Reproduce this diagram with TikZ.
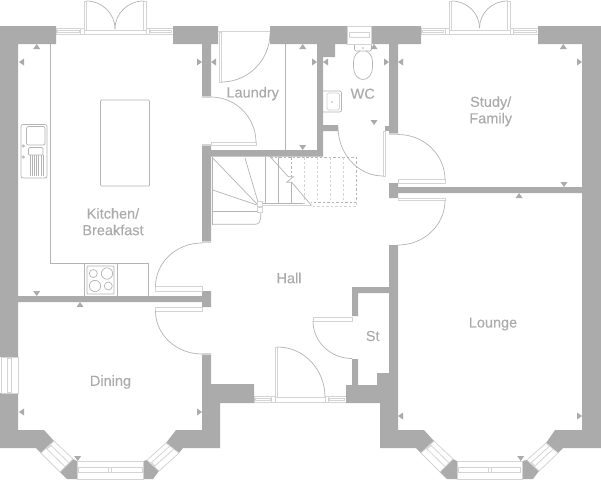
\documentclass[tikz,border=0pt]{standalone}
\usepackage{fontspec}
\setmainfont{Liberation Sans}
\newfontface\lblfont[FakeBold=0.12]{Liberation Sans}
\usetikzlibrary{calc}
\definecolor{wallc}{HTML}{ABABAB}
\definecolor{linec}{HTML}{B4B4B4}
\definecolor{lightc}{HTML}{D4D4D4}
\tikzset{
  wall/.style={fill=wallc,draw=none},
  thin line/.style={draw=linec,line width=0.7pt},
  light line/.style={draw=lightc,line width=0.8pt},
  capbar/.style={fill=white,draw=lightc,line width=0.8pt},
  dark dash/.style={draw=linec,line width=0.7pt,dash pattern=on 2.5pt off 2pt},
  pale dash/.style={draw=lightc,line width=0.7pt,dash pattern=on 2.5pt off 2pt},
  label/.style={text=wallc,font=\lblfont\fontsize{14.5}{16.5}\selectfont,align=center,inner sep=0pt}
}
\newcommand\qh[4]{\draw[thin line] (#1,#2) .. controls ({#1+.5523*(#3-(#1))},#2) and (#3,{#4-.5523*(#4-(#2))}) .. (#3,#4);}
\newcommand\qv[4]{\draw[thin line] (#1,#2) .. controls (#1,{#2+.5523*(#4-(#2))}) and ({#3-.5523*(#3-(#1))},#4) .. (#3,#4);}
\newcommand\mkU[2]{\fill[wallc] ({#1-3.5},{#2+5})--(#1,#2)--({#1+3.5},{#2+5})--cycle;}
\newcommand\mkD[2]{\fill[wallc] ({#1-3.5},{#2-5})--(#1,#2)--({#1+3.5},{#2-5})--cycle;}
\newcommand\mkL[2]{\fill[wallc] ({#1+5},{#2-3.5})--(#1,#2)--({#1+5},{#2+3.5})--cycle;}
\newcommand\mkR[2]{\fill[wallc] ({#1-5},{#2-3.5})--(#1,#2)--({#1-5},{#2+3.5})--cycle;}
% flat window: x1 x2 y1 y2
\newcommand\winh[4]{\draw[capbar] (#1,#3) rectangle (#2,#4);
  \draw[light line] ({#1+1.5},{#3+1.7}) rectangle ({#2-1.5},{#4-1.7});}
% bay window from four corners
\newcommand\bay[8]{\draw[capbar] (#1,#2)--(#3,#4)--(#5,#6)--(#7,#8)--cycle;
  \draw[light line] ($(#1,#2)!.3!(#7,#8)$)--($(#3,#4)!.3!(#5,#6)$);
  \draw[light line] ($(#1,#2)!.6!(#7,#8)$)--($(#3,#4)!.6!(#5,#6)$);
  \draw[light line] ($(#1,#2)!.08!(#3,#4)!.3!(#7,#8)$)--($(#1,#2)!.08!(#3,#4)!.6!(#7,#8)$);}
\begin{document}
\begin{tikzpicture}[x=1pt,y=-1pt]
\useasboundingbox (0,0) rectangle (601,480);
\fill[white] (0,0) rectangle (601,480);
% --- kitchen fittings
\draw[thin line] (50.5,44)--(50.5,263)--(148,263)--(148,296);
\draw[thin line] (84.5,263)--(84.5,296) (117.5,263)--(117.5,296);
\draw[thin line,rounded corners=1pt] (87,266) rectangle (114,294);
\draw[thin line] (93.3,273.5) circle (4) (107,273.5) circle (5.7) (95,286) circle (5.7) (108.3,286) circle (4);
\draw[thin line,rounded corners=1pt] (100.5,100) rectangle (149.5,186);
\draw[thin line,rounded corners=2pt] (21,124.5) rectangle (47,178);
\draw[thin line,rounded corners=2pt] (26.5,126.5) rectangle (45,145);
\draw[thin line,rounded corners=1pt] (28.5,147.5) rectangle (43,155);
\foreach \xx in {30,32.2,34.4,36.6,38.8,41,43}{\draw[thin line] (\xx,155)--(\xx,176);}
\draw[thin line] (23.3,146) circle (1.2) (23.3,157) circle (1.2);
% --- laundry and WC fittings
\draw[thin line] (285.5,44)--(285.5,150);
\draw[thin line,rounded corners=1.5pt] (354.5,44)--(354.5,51)--(371.5,51)--(371.5,44);
\draw[thin line] (360,51) .. controls (353,55) and (353.5,60) .. (353.5,66) .. controls (353.5,75) and (358,79.5) .. (363,79.5) .. controls (368,79.5) and (372.5,75) .. (372.5,66) .. controls (372.5,60) and (373,55) .. (366,51);
\fill[linec] (363,48) circle (0.9);
\draw[thin line,rounded corners=2pt] (323,91) -- (341.5,91) -- (341.5,112) -- (323,112);
\draw[light line,rounded corners=1.5pt] (327,93) rectangle (339.5,110);
\fill[linec] (332,102) circle (0.9);
% --- stairs
\draw[thin line] (212.7,157)--(212.7,225);
\draw[thin line] (212.7,158)--(257.3,204.3);
\draw[thin line] (245,158)--(258,202);
\draw[thin line] (212.7,190)--(257,205);
\draw[thin line] (212.7,211)--(257,211);
\draw[thin line] (212.7,224.3)--(255,224.3) .. controls (259,224.3) and (260.7,221) .. (260.7,218)--(260.7,212);
\draw[thin line] (265.3,157)--(265.3,203);
\draw[thin line] (278.3,157)--(278.3,203);
\draw[thin line] (291.7,182)--(291.7,203);
\draw[thin line] (269.3,155.7)--(288.3,176.7)--(293.3,176.7)--(286.7,182.3)--(291.7,182.3)--(311.7,205.7);
\draw[light line] (262.3,203.3)--(305,203.3) (262.3,205.8)--(311.7,205.8);
\draw[thin line] (262.3,203.3)--(303,203.3);
\draw[capbar] (257.3,201.7) rectangle (262.3,206.7);
\draw[capbar] (257.3,207) rectangle (262.3,212);
\draw[dark dash] (270,157)--(356,157)--(356,202.3)--(311,202.3);
\draw[dark dash] (291.7,157)--(291.7,177);
\draw[pale dash] (304.3,157)--(304.3,202);
\draw[pale dash] (317.3,157)--(317.3,202);
\draw[pale dash] (330.7,157)--(330.7,202);
\draw[pale dash] (343.7,157)--(343.7,202);
\draw[pale dash] (356,202)--(356,206)--(311,206);
% --- windows
\winh{56}{81}{28.3}{34}
\winh{149}{173}{28.3}{34}
\winh{421}{445}{28.3}{34}
\winh{512}{538}{28.3}{34}
\draw[capbar] (80,28.3) rectangle (84,34);
\draw[capbar] (146,28.3) rectangle (149.5,34);
\draw[capbar] (445,28.3) rectangle (449,34);
\draw[capbar] (510,28.3) rectangle (513,34);
\winh{254}{272}{396.5}{402.5}
\winh{328}{346}{396.5}{402.5}
\draw[capbar] (271,396.5) rectangle (275,402.5);
\draw[capbar] (325,396.5) rectangle (328,402.5);
% --- external doors
\draw[capbar] (84,1) rectangle (86.5,30);
\draw[capbar] (143.5,1) rectangle (146,30);
\draw[capbar] (84,30) rectangle (146,34);
\qh{86.5}{1}{115}{29}
\qh{143.5}{1}{115}{29}
\draw[capbar] (449,1) rectangle (451.5,30);
\draw[capbar] (507.5,1) rectangle (510,30);
\draw[capbar] (449,30) rectangle (510,34);
\qh{451.5}{1}{479.5}{28}
\qh{507.5}{1}{479.5}{28}
\draw[capbar] (275,347) rectangle (277.5,397);
\draw[capbar] (275,397) rectangle (325,402.5);
\qh{277.5}{347}{325}{397}
% --- walls
\fill[wall] (0,26)--(56,26)--(56,44)--(18,44)--(18,357)--(0,357)--cycle;
\fill[wall] (173,26)--(218,26)--(218,44)--(211,44)--(211,97)--(202,97)--(202,44)--(173,44)--cycle;
\fill[wall] (270,26)--(347,26)--(347,44)--(335,44)--(335,57)--(323,57)--(323,125)--(338,125)--(338,131)--(323,131)--(323,156.5)--(211,156.5)--(211,242)--(202,242)--(202,145)--(211,145)--(211,150)--(317,150)--(317,44)--(270,44)--cycle;
\fill[wall] (371,26)--(421,26)--(421,44)--(398,44)--(398,134)--(389,134)--(389,44)--(371,44)--cycle;
\fill[wall] (538,26)--(601,26)--(601,448)--(563,448)--(558,453)--(546,443)--(555,430)--(582,430)--(582,44)--(538,44)--cycle;
% kitchen/dining wall
\fill[wall] (18,296)--(202,296)--(202,291)--(211,291)--(211,307)--(202,307)--(202,302)--(18,302)--cycle;
% dining lower left
\fill[wall] (0,393)--(18,393)--(18,430)--(44,430)--(54,441)--(41,453)--(36,448)--(0,448)--cycle;
\fill[wall] (73,459)--(77,461)--(77,479)--(67,479)--(60,472)--cycle;
\fill[wall] (147,460)--(143,461)--(143,479)--(153,479)--(159,471)--cycle;
\fill[wall] (166,443)--(176,430)--(202,430)--(202,354)--(211,354)--(211,384)--(254,384)--(254,403)--(220,403)--(220,448)--(183,448)--(179,453)--cycle;
% hall right, St
\fill[wall] (389,183)--(398,183)--(398,187)--(582,187)--(582,193)--(398,193)--(398,198)--(389,198)--cycle;
\fill[wall] (389,245)--(398,245)--(398,430)--(424,430)--(434,441)--(421,453)--(416,448)--(380,448)--(380,403)--(346,403)--(346,385)--(352,385)--(352,359)--(358,359)--(358,385)--(377,385)--(377,373)--(389,373)--(389,293)--(358,293)--(358,316)--(352,316)--(352,287)--(389,287)--cycle;
\fill[wall] (453,459)--(457,461)--(457,479)--(447,479)--(440,472)--cycle;
\fill[wall] (527,460)--(522,461)--(522,479)--(533,479)--(539,471)--cycle;
\fill[wall] (385,126)--(389,126)--(389,131)--(385,131)--cycle;
% wall-end caps
\fill[lightc] (202,96)--(211,96)--(211,98)--(202,98)--cycle;
\fill[lightc] (202,144)--(211,144)--(211,146)--(202,146)--cycle;
\fill[lightc] (202,241)--(211,241)--(211,243)--(202,243)--cycle;
\fill[lightc] (389,133)--(398,133)--(398,135)--(389,135)--cycle;
\fill[lightc] (202,353)--(211,353)--(211,355)--(202,355)--cycle;
% --- side, bay and WC windows
\draw[capbar] (1,357) rectangle (18,393);
\draw[light line] (7.3,358) rectangle (11.7,392);
\draw[capbar] (347,26) rectangle (371,44);
\draw[light line] (349,32) rectangle (369,37);
\draw[capbar] (77,461) rectangle (143,479);
\draw[light line] (78.5,467.7) rectangle (142,472.7);
\draw[capbar] (108.7,467.7) rectangle (111.3,472.7);
\draw[capbar] (457,461) rectangle (522,479);
\draw[light line] (458.5,467.7) rectangle (520.5,472.7);
\draw[capbar] (488.7,467.7) rectangle (491.3,472.7);
\bay{54}{441}{73}{459}{60}{472}{41}{453}
\bay{147}{460}{166}{443}{179}{453}{159}{471}
\bay{434}{441}{453}{459}{440}{472}{421}{453}
\bay{527}{460}{546}{443}{558}{453}{539}{471}
% --- internal doors
\draw[light line] (218,31)--(270,31);
\draw[capbar] (219,32) rectangle (221.5,82);
\qh{221.5}{82}{270}{33}
\draw[capbar] (211,142.5) rectangle (256,145);
\qh{211}{97}{256}{142.5}
\draw[capbar] (383,131) rectangle (385,176);
\qv{338}{127}{383}{176}
\draw[capbar] (398,179.5) rectangle (445,183);
\qh{398}{134.5}{445}{179.5}
\draw[capbar] (398,198) rectangle (445,200.5);
\qv{445}{200.5}{398}{245}
\draw[capbar] (155.5,286.5) rectangle (202,291);
\qh{202}{243}{155.5}{286.5}
\draw[capbar] (155.5,307) rectangle (202,311);
\qv{155.5}{311}{202}{354}
\draw[capbar] (313,317) rectangle (352,321);
\qv{313}{321}{352}{358.5}
% --- level markers
\mkU{36.7}{44} \mkL{19}{62} \mkR{202}{62}
\mkL{211}{62} \mkU{302.7}{44} \mkR{317}{62} \mkL{323}{62}
\mkU{374}{44} \mkR{389}{62} \mkL{398}{62} \mkD{374}{125} \mkD{302.7}{150}
\mkU{563.3}{44} \mkR{582}{62} \mkD{564}{187} \mkU{519}{193}
\mkD{36.7}{296} \mkU{80}{302}
\mkL{19}{412} \mkR{202}{412} \mkD{77.7}{461}
\mkL{398}{416} \mkR{582}{416} \mkD{520.7}{461}
% --- labels
\node[label] (laundry) at (252.7,93.7) {Laundry};
\node[label] (wc) at (362.7,93.7) {WC};
\node[label] (study) at (490.7,111.3) {Study/\\Family};
\node[label] (kitchen) at (113,221.7) {Kitchen/\\Breakfast};
\node[label] (hall) at (289,278) {Hall};
\node[label] (st) at (372.7,336) {St};
\node[label] (lounge) at (493,324) {Lounge};
\node[label] (dining) at (110.5,382) {Dining};
\end{tikzpicture}
\end{document}
